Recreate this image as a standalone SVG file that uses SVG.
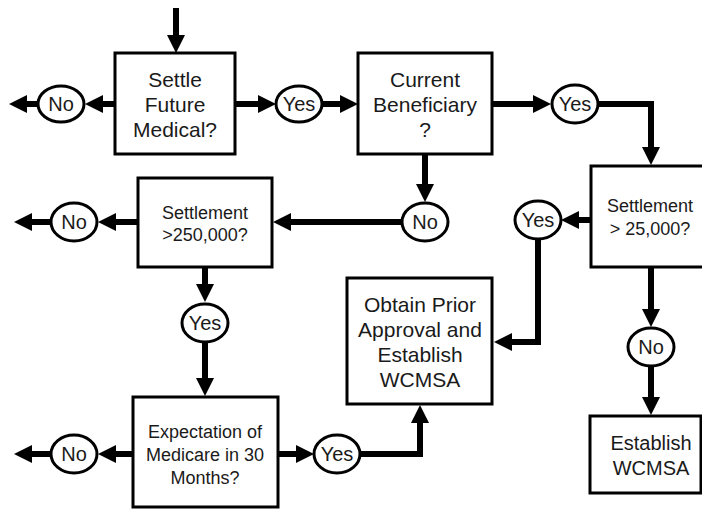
<svg xmlns="http://www.w3.org/2000/svg" width="702" height="510" viewBox="0 0 702 510">
<style>
.box{fill:#fff;stroke:#000;stroke-width:3}
.oval{fill:#fff;stroke:#000;stroke-width:3}
.t{font-family:"Liberation Sans",Arial,sans-serif;fill:#1a1a1a;text-anchor:middle}
.c{fill:none;stroke:#000;stroke-width:6}
</style>
<defs>
<marker id="ah" markerUnits="userSpaceOnUse" markerWidth="19" markerHeight="19" refX="0" refY="9" orient="auto" viewBox="0 0 19 18">
<path d="M0,0 L18,9 L0,18 z" fill="#000"/>
</marker>
</defs>
<g id="connectors">
<path class="c" d="M176,8 V35" marker-end="url(#ah)"/>
<path class="c" d="M115,104 H103" marker-end="url(#ah)"/>
<path class="c" d="M38,104 H27" marker-end="url(#ah)"/>
<path class="c" d="M235,104 H258" marker-end="url(#ah)"/>
<path class="c" d="M322,104 H340" marker-end="url(#ah)"/>
<path class="c" d="M492,104 H533" marker-end="url(#ah)"/>
<path class="c" d="M598,104 H651 V147" marker-end="url(#ah)"/>
<path class="c" d="M425,154 V184" marker-end="url(#ah)"/>
<path class="c" d="M402,222 H291" marker-end="url(#ah)"/>
<path class="c" d="M138,222 H116" marker-end="url(#ah)"/>
<path class="c" d="M51,222 H32" marker-end="url(#ah)"/>
<path class="c" d="M205,267 V284" marker-end="url(#ah)"/>
<path class="c" d="M205,342 V378" marker-end="url(#ah)"/>
<path class="c" d="M133,454 H116" marker-end="url(#ah)"/>
<path class="c" d="M51,454 H32" marker-end="url(#ah)"/>
<path class="c" d="M278,454 H296" marker-end="url(#ah)"/>
<path class="c" d="M360,454 H420 V423" marker-end="url(#ah)"/>
<path class="c" d="M591,220 H579" marker-end="url(#ah)"/>
<path class="c" d="M538,239 V342 H512" marker-end="url(#ah)"/>
<path class="c" d="M651,267 V309" marker-end="url(#ah)"/>
<path class="c" d="M651,366 V397" marker-end="url(#ah)"/>
</g>
<g id="settle-future-medical">
<rect class="box" x="115" y="53" width="120" height="101"/>
<text class="t" font-size="21"><tspan x="175" y="87">Settle</tspan><tspan x="175" y="112">Future</tspan><tspan x="175" y="137">Medical?</tspan></text>
</g>
<g id="current-beneficiary">
<rect class="box" x="358" y="53" width="134" height="101"/>
<text class="t" font-size="21"><tspan x="425" y="87">Current</tspan><tspan x="425" y="112">Beneficiary</tspan><tspan x="425" y="137">?</tspan></text>
</g>
<g id="settlement-250000">
<rect class="box" x="138" y="178" width="134" height="89"/>
<text class="t" font-size="18"><tspan x="205" y="219">Settlement</tspan><tspan x="205" y="241">&gt;250,000?</tspan></text>
</g>
<g id="settlement-25000">
<rect class="box" x="591" y="166" width="125" height="101"/>
<text class="t" font-size="18"><tspan x="650" y="212">Settlement</tspan><tspan x="650" y="235">&gt; 25,000?</tspan></text>
</g>
<g id="obtain-prior-approval">
<rect class="box" x="347" y="278" width="145" height="126"/>
<text class="t" font-size="21"><tspan x="420" y="312">Obtain Prior</tspan><tspan x="420" y="337">Approval and</tspan><tspan x="420" y="362">Establish</tspan><tspan x="420" y="387">WCMSA</tspan></text>
</g>
<g id="expectation-medicare">
<rect class="box" x="133" y="397" width="145" height="110"/>
<text class="t" font-size="18"><tspan x="205" y="438">Expectation of</tspan><tspan x="205" y="461">Medicare in 30</tspan><tspan x="205" y="484">Months?</tspan></text>
</g>
<g id="establish-wcmsa">
<rect class="box" x="590" y="416" width="111" height="77"/>
<text class="t" font-size="20"><tspan x="651" y="450">Establish</tspan><tspan x="651" y="475">WCMSA</tspan></text>
</g>
<g id="no-1"><ellipse class="oval" cx="61" cy="104" rx="23" ry="18"/><text class="t" font-size="20" x="61" y="111">No</text></g>
<g id="yes-1"><ellipse class="oval" cx="299" cy="104" rx="23" ry="18"/><text class="t" font-size="20" x="299" y="111">Yes</text></g>
<g id="yes-2"><ellipse class="oval" cx="575" cy="104" rx="23" ry="19"/><text class="t" font-size="20" x="575" y="111">Yes</text></g>
<g id="no-3"><ellipse class="oval" cx="425" cy="222" rx="23" ry="19"/><text class="t" font-size="20" x="425" y="229">No</text></g>
<g id="no-4"><ellipse class="oval" cx="74" cy="222" rx="23" ry="19"/><text class="t" font-size="20" x="74" y="229">No</text></g>
<g id="yes-5"><ellipse class="oval" cx="205" cy="323" rx="23" ry="19"/><text class="t" font-size="20" x="205" y="330">Yes</text></g>
<g id="no-6"><ellipse class="oval" cx="74" cy="454" rx="23" ry="19"/><text class="t" font-size="20" x="74" y="461">No</text></g>
<g id="yes-7"><ellipse class="oval" cx="337" cy="454" rx="23" ry="19"/><text class="t" font-size="20" x="337" y="461">Yes</text></g>
<g id="yes-8"><ellipse class="oval" cx="538" cy="220" rx="23" ry="19"/><text class="t" font-size="20" x="538" y="227">Yes</text></g>
<g id="no-9"><ellipse class="oval" cx="651" cy="347" rx="23" ry="19"/><text class="t" font-size="20" x="651" y="354">No</text></g>
</svg>
